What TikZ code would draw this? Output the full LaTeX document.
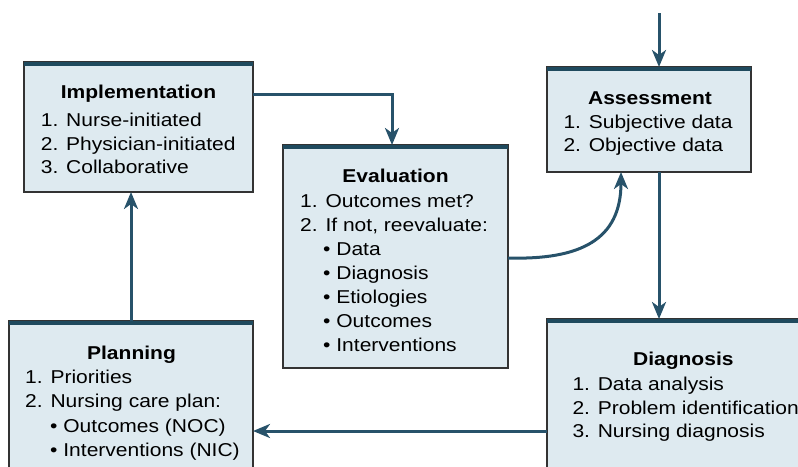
\documentclass[tikz,border=0pt]{standalone}
\usepackage{fontspec}
\setmainfont{Liberation Sans}[FakeStretch=1.13]
\usetikzlibrary{arrows.meta}
\definecolor{boxfill}{HTML}{DEEAF0}
\definecolor{barcol}{HTML}{1F4A5E}
\definecolor{arrcol}{HTML}{27526A}
\definecolor{edgecol}{HTML}{333333}
\newcommand\itemlines[2]{\vtop{\baselineskip=#1pt\lineskiplimit=-30pt\lineskip=0pt #2}}
\begin{document}
\begin{tikzpicture}[x=1pt,y=-1pt,
  font=\fontsize{18.6}{23.5}\selectfont,
  box/.style={draw=edgecol, line width=1.2pt, fill=boxfill, inner sep=0pt, outer sep=0pt},
  topbar/.style={draw=barcol, line width=4.5pt},
  conn/.style={draw=arrcol, line width=3pt, -{Stealth[length=17pt,width=14pt,inset=5pt]}},
  boxtitle/.style={anchor=base, inner sep=0pt, font=\fontsize{18.6}{23.5}\selectfont\bfseries},
  boxlines/.style={anchor=base west, inner sep=0pt}]
\useasboundingbox (0,0) rectangle (798,466);
\clip (0,0) rectangle (798,466);
% boxes
\node[box, minimum width=229pt, minimum height=130pt] (impl) at (138.5,127) {};
\node[box, minimum width=225pt, minimum height=223pt] (eval) at (395.5,256.5) {};
\node[box, minimum width=204pt, minimum height=105pt] (assess) at (649,119.5) {};
\node[box, minimum width=272pt, minimum height=181pt] (diag) at (683,409.5) {};
\node[box, minimum width=244pt, minimum height=179pt] (plan) at (131,410.5) {};
\foreach \n in {impl,eval,assess,diag,plan}
  \draw[topbar] ([yshift=-2pt]\n.north west) -- ([yshift=-2pt]\n.north east);
% texts
\node[boxtitle] (implT) at (138.5,98) {Implementation};
\node[boxlines] (implL) at (40.7,126.5) {\itemlines{23.5}{\hbox{1. Nurse-initiated}\hbox{2. Physician-initiated}\hbox{3. Collaborative}}};
\node[boxtitle] (assessT) at (650,104) {Assessment};
\node[boxlines] (assessL) at (563.3,128) {\itemlines{23.5}{\hbox{1. Subjective data}\hbox{2. Objective data}}};
\node[boxtitle] (evalT) at (395.5,182.7) {Evaluation};
\node[boxlines] (evalL) at (300,207.7) {\itemlines{23.9}{\hbox{1. Outcomes met?}\hbox{2. If not, reevaluate:}\hbox{\hskip23pt • Data}\hbox{\hskip23pt • Diagnosis}\hbox{\hskip23pt • Etiologies}\hbox{\hskip23pt • Outcomes}\hbox{\hskip23pt • Interventions}}};
\node[boxtitle] (planT) at (131.5,359.3) {Planning};
\node[boxlines] (planL) at (25,383.3) {\itemlines{24.4}{\hbox{1. Priorities}\hbox{2. Nursing care plan:}\hbox{\hskip25pt • Outcomes (NOC)}\hbox{\hskip25pt • Interventions (NIC)}}};
\node[boxtitle] (diagT) at (683.3,365) {Diagnosis};
\node[boxlines] (diagL) at (572.3,390.7) {\itemlines{23.5}{\hbox{1. Data analysis}\hbox{2. Problem identification}\hbox{3. Nursing diagnosis}}};
% connectors
\coordinate (aIn) at (659,13);
\coordinate (ie) at (392,94);
\coordinate (dp) at (0,431);
\coordinate (ea) at (0,258);
\coordinate (ax) at (621,0);
\draw[conn] (aIn) -- (aIn |- assess.north);
\draw[conn] (assess.south -| aIn) -- (diag.north -| aIn);
\draw[conn] (diag.west |- dp) -- (plan.east |- dp);
\draw[conn] (plan.north) -- (plan.north |- impl.south);
\draw[conn] (impl.east |- ie) -| (eval.north -| ie);
\draw[conn] (eval.east |- ea) .. controls (580,260) and (621,240) .. (assess.south -| ax);
\end{tikzpicture}
\end{document}
